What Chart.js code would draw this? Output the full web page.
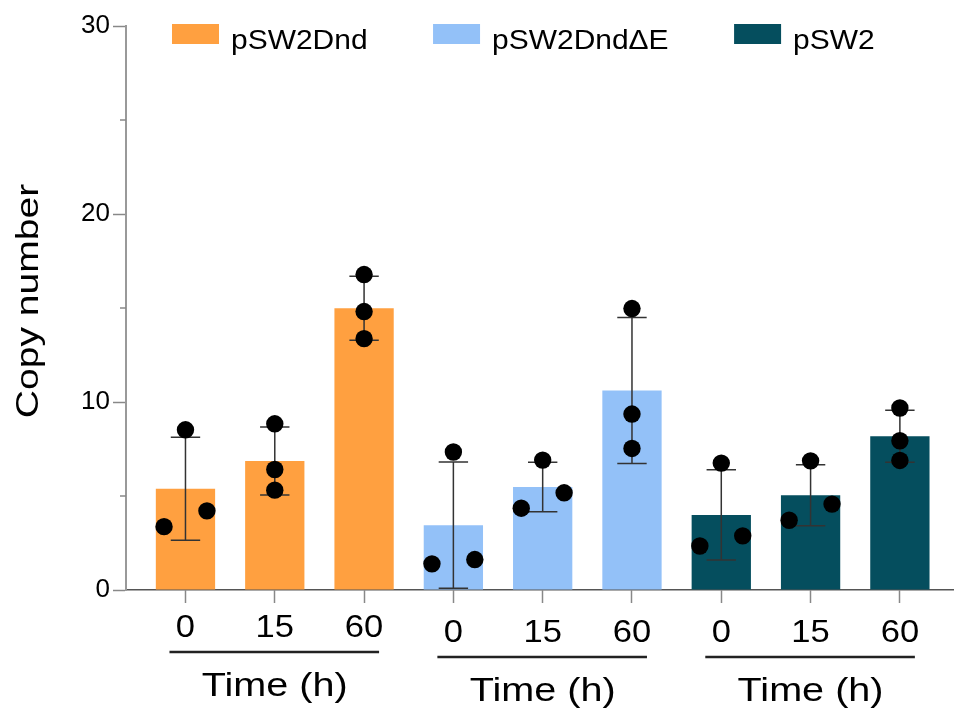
<!DOCTYPE html>
<html>
<head>
<meta charset="utf-8">
<script src="https://cdn.jsdelivr.net/npm/chart.js@4.4.1/dist/chart.umd.min.js"></script>
<style>
    body { margin: 0; background: #fff; }
    canvas { display: block; }
</style>
</head>
<body>
<canvas id="myChart" width="954" height="713"></canvas>
<script>
var grupos = ['pSW2Dnd', 'pSW2DndΔE', 'pSW2']
var tempos = ['0', '15', '60']
var cores = ['#FFA040', '#93C1F8', '#054E5E']

// media e desvio padrao de cada barra (grupo x tempo)
var medias = [
    [5.38, 6.86, 14.99],
    [3.45, 5.48, 10.61],
    [3.99, 5.04, 8.18]
]
var desvios = [
    [2.74, 1.81, 1.70],
    [3.36, 1.32, 3.88],
    [2.40, 1.62, 1.38]
]
// as 3 replicas de cada barra
var replicas = [
    [[8.52, 3.37, 4.21], [8.84, 6.41, 5.31], [16.78, 14.81, 13.37]],
    [[7.34, 1.39, 1.62], [6.91, 4.35, 5.17], [14.97, 9.36, 7.53]],
    [[6.75, 2.34, 2.88], [6.87, 3.71, 4.57], [9.68, 7.94, 6.89]]
]
// lado de cada ponto: -1 esquerda, 0 centro, 1 direita
var lados = [
    [[0, -1, 1], [0, 0, 0], [0, 0, 0]],
    [[0, -1, 1], [0, -1, 1], [0, 0, 0]],
    [[0, -1, 1], [0, -1, 1], [0, 0, 0]]
]
var ticksY = [0, 10, 20, 30]
var ticksMenoresY = [5, 15, 25]
var tituloY = 'Copy number'
var tituloX = 'Time (h)'

var fonte = "'Liberation Sans', Arial, sans-serif"
var afastamento = 0.24

function textoEsticado(ctx, texto, x, y, esticar) {
    ctx.save()
    ctx.translate(x, y)
    ctx.scale(esticar, 1)
    ctx.fillText(texto, 0, 0)
    ctx.restore()
}

var barrasErro = {
    id: 'barrasErro',
    afterDatasetDraw: function (chart, args) {
        var ds = chart.data.datasets[args.index]
        if (ds.type !== 'bar') return
        var ctx = chart.ctx
        var ys = chart.scales.y
        ctx.save()
        ctx.strokeStyle = '#333'
        ctx.lineWidth = 1.5
        args.meta.data.forEach(function (barra, t) {
            var m = medias[ds.grupo][t]
            var sd = desvios[ds.grupo][t]
            var topo = ys.getPixelForValue(m + sd)
            var base = ys.getPixelForValue(m - sd)
            ctx.beginPath()
            ctx.moveTo(barra.x, topo)
            ctx.lineTo(barra.x, base)
            ctx.moveTo(barra.x - 14.7, topo)
            ctx.lineTo(barra.x + 14.7, topo)
            ctx.moveTo(barra.x - 14.7, base)
            ctx.lineTo(barra.x + 14.7, base)
            ctx.stroke()
        })
        ctx.restore()
    }
}

var textos = {
    id: 'textos',
    afterDraw: function (chart) {
        var ctx = chart.ctx
        var xs = chart.scales.x
        var ys = chart.scales.y
        var area = chart.chartArea
        ctx.save()

        // ticks menores do eixo y
        ctx.strokeStyle = '#888'
        ctx.lineWidth = 1.5
        ticksMenoresY.forEach(function (v) {
            var py = ys.getPixelForValue(v)
            ctx.beginPath()
            ctx.moveTo(area.left - 6, py)
            ctx.lineTo(area.left, py)
            ctx.stroke()
        })

        // titulo do eixo y
        ctx.fillStyle = '#000'
        ctx.textAlign = 'center'
        ctx.textBaseline = 'middle'
        ctx.font = '31px ' + fonte
        ctx.save()
        ctx.translate(29, 301)
        ctx.rotate(-Math.PI / 2)
        ctx.scale(1.26, 1)
        ctx.fillText(tituloY, 0, 0)
        ctx.restore()

        // rotulos do eixo x, linha de grupo e "Time (h)"
        var desce = [0, 5, 5]
        ctx.textBaseline = 'alphabetic'
        for (var g = 0; g < grupos.length; g++) {
            ctx.font = '32px ' + fonte
            for (var t = 0; t < tempos.length; t++) {
                var px = xs.getPixelForValue(g * 3 + t)
                textoEsticado(ctx, tempos[t], px, 637 + desce[g], 1.08)
            }
            var ini = xs.getPixelForValue(g * 3)
            var fim = xs.getPixelForValue(g * 3 + 2)
            ctx.strokeStyle = '#222'
            ctx.lineWidth = 2.5
            ctx.beginPath()
            ctx.moveTo(ini - 16, 652 + desce[g])
            ctx.lineTo(fim + 15, 652 + desce[g])
            ctx.stroke()
            ctx.font = '33px ' + fonte
            textoEsticado(ctx, tituloX, xs.getPixelForValue(g * 3 + 1), 696 + desce[g], 1.2)
        }

        // legenda
        ctx.font = '28px ' + fonte
        ctx.textAlign = 'left'
        var lx = 172
        for (var i = 0; i < grupos.length; i++) {
            ctx.fillStyle = cores[i]
            ctx.fillRect(lx, 24, 47, 20)
            ctx.fillStyle = '#000'
            textoEsticado(ctx, grupos[i], lx + 59, 49, 1.07)
            lx += 59 + ctx.measureText(grupos[i]).width * 1.07 + 65.5
        }
        ctx.restore()
    }
}

function plotarGrafico() {
    var datasets = []
    for (var g = 0; g < grupos.length; g++) {
        var barras = []
        for (var t = 0; t < tempos.length; t++) {
            barras.push({ x: g * 3 + t, y: medias[g][t] })
        }
        datasets.push({
            type: 'bar',
            label: grupos[g],
            grupo: g,
            data: barras,
            backgroundColor: cores[g],
            grouped: false,
            barPercentage: 0.664,
            categoryPercentage: 1,
            order: 2
        })
    }
    for (var g = 0; g < grupos.length; g++) {
        var pontos = []
        for (var t = 0; t < tempos.length; t++) {
            for (var r = 0; r < replicas[g][t].length; r++) {
                pontos.push({ x: g * 3 + t + lados[g][t][r] * afastamento, y: replicas[g][t][r] })
            }
        }
        datasets.push({
            type: 'scatter',
            label: grupos[g] + ' replicas',
            data: pontos,
            pointRadius: 8.7,
            pointHoverRadius: 8.7,
            backgroundColor: '#000',
            borderWidth: 0,
            order: 1
        })
    }

    var config = {
        type: 'bar',
        data: { datasets: datasets },
        options: {
            responsive: false,
            animation: false,
            layout: { autoPadding: false, padding: { top: 26, left: 0, right: 0, bottom: 0 } },
            plugins: {
                legend: { display: false },
                tooltip: { enabled: false },
                title: { display: false }
            },
            scales: {
                x: {
                    type: 'linear',
                    min: -0.666,
                    max: 8.606,
                    offset: false,
                    afterBuildTicks: function (s) {
                        var lista = []
                        for (var i = 0; i < grupos.length * tempos.length; i++) lista.push({ value: i })
                        s.ticks = lista
                    },
                    ticks: { display: false },
                    grid: { drawOnChartArea: false, offset: false, tickLength: 13, tickColor: '#888', tickWidth: 1.5 },
                    border: { color: '#555', width: 1.5 },
                    afterFit: function (s) { s.height = 123 }
                },
                y: {
                    min: 0,
                    max: 30,
                    afterBuildTicks: function (s) {
                        s.ticks = ticksY.map(function (v) { return { value: v } })
                    },
                    ticks: { font: { family: fonte, size: 26 }, color: '#000', padding: 3 },
                    grid: { drawOnChartArea: false, tickLength: 13, tickColor: '#888', tickWidth: 1.5 },
                    border: { color: '#999', width: 2 },
                    afterFit: function (s) { s.width = 126 }
                }
            }
        },
        plugins: [barrasErro, textos]
    }

    var myChart = new Chart(document.getElementById('myChart'), config)
}

plotarGrafico()
</script>
</body>
</html>
